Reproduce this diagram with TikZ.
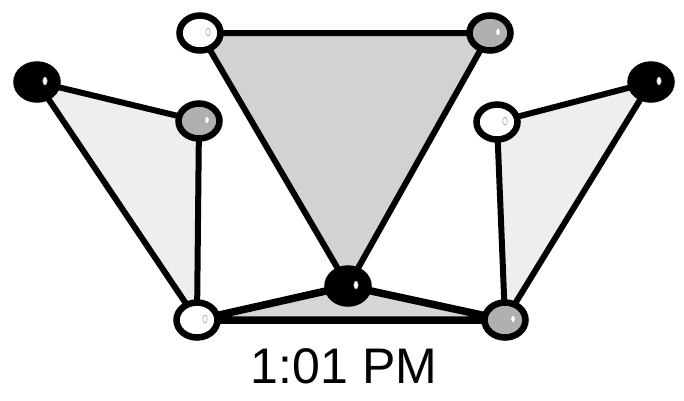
\documentclass[tikz,border=0pt]{standalone}
\usepackage{fontspec}
\setmainfont{Liberation Sans}
\usetikzlibrary{backgrounds,shapes.geometric}
\definecolor{topfill}{HTML}{D2D2D2}
\definecolor{sidefill}{HTML}{EEEEEE}
\definecolor{botfill}{HTML}{D6D6D6}
\definecolor{graynode}{HTML}{B0B0B0}
\tikzset{
  ball/.style={ellipse, draw=black, line width=6.5pt, minimum width=41pt, minimum height=35pt, inner sep=0pt},
  wball/.style={ball, fill=white},
  gball/.style={ball, fill=graynode},
  bball/.style={ball, fill=black},
  rod/.style={line width=6pt, line join=round, line cap=round},
  thickrod/.style={line width=7.5pt, line join=round, line cap=round},
  shine/.style={fill=white, draw=gray!70, line width=0.6pt}
}
\begin{document}
\begin{tikzpicture}[x=1pt,y=-1pt]
\useasboundingbox (0,0) rectangle (684,400);
\node[wball] (tl) at (200,33) {};
\node[gball] (tr) at (490,33) {};
\node[bball] (lb) at (37,82) {};
\node[gball] (lg) at (199,121) {};
\node[bball] (rb) at (651,82) {};
\node[wball] (rw) at (497,122) {};
\node[wball] (bl) at (197,320) {};
\node[bball] (bc) at (348,286) {};
\node[gball] (br) at (505,320) {};
\begin{scope}[on background layer]
  \fill[topfill] (tl.center) -- (tr.center) -- (bc.center) -- cycle;
  \fill[sidefill] (lb.center) -- (lg.center) -- (bl.center) -- cycle;
  \fill[sidefill] (rb.center) -- (rw.center) -- (br.center) -- cycle;
  \fill[botfill] (bl.center) -- (bc.center) -- (br.center) -- cycle;
  \draw[rod] (tl.center) -- (tr.center) -- (bc.center) -- cycle;
  \draw[rod] (lb.center) -- (lg.center) -- (bl.center) -- cycle;
  \draw[rod] (rb.center) -- (rw.center) -- (br.center) -- cycle;
  \draw[thickrod] (bl.center) -- (bc.center) -- (br.center) -- cycle;
\end{scope}
\foreach \n in {tl,tr,lb,lg,rb,rw,bl,bc,br}{
  \fill[shine] ([xshift=8pt,yshift=1pt]\n.center) ellipse (2.2pt and 4pt);
}
\node[inner sep=0pt, font=\fontsize{50}{60}\selectfont] (time) at (344,366) {1:01 PM};
\end{tikzpicture}
\end{document}
